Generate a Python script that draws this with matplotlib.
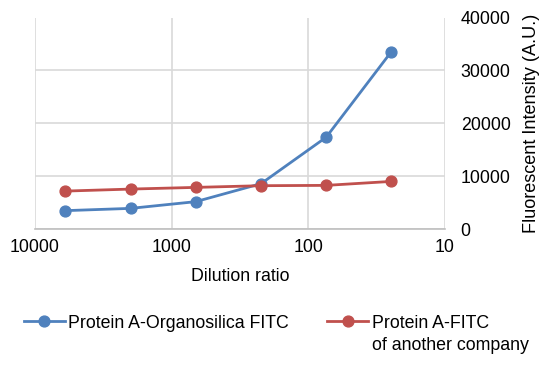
import matplotlib
matplotlib.use("Agg")
import matplotlib.pyplot as plt
from matplotlib.ticker import FixedLocator, NullLocator

plt.rcParams['font.family'] = ['Liberation Sans', 'DejaVu Sans']

dilution = [6000, 2000, 667, 222, 74, 24.7]
organosilica = [3470, 3900, 5170, 8570, 17360, 33530]
other_company = [7170, 7550, 7870, 8190, 8250, 9000]
x_ticks = [10000, 1000, 100, 10]
x_tick_labels = ["10000", "1000", "100", "10"]
y_ticks = [0, 10000, 20000, 30000, 40000]
label_blue = "Protein A-Organosilica FITC"
label_red = ["Protein A-FITC", "of another company"]

blue = "#4F81BD"
red = "#C0504D"
FS = 12.8
W, H = 550, 367

fig = plt.figure(figsize=(5.5, 3.67), dpi=100)
ax = fig.add_axes([35 / W, 1 - 229 / H, (445 - 35) / W, (229 - 17.5) / H])

ax.set_xscale("log")
ax.set_xlim(10000, 10)
ax.set_ylim(0, 40000)

l1, = ax.plot(dilution, organosilica, color=blue, lw=2.0, marker="o", ms=7.8,
              label=label_blue, zorder=3)
l2, = ax.plot(dilution, other_company, color=red, lw=2.0, marker="o", ms=7.8,
              label=label_red[0], zorder=4)

ax.xaxis.set_major_locator(FixedLocator(x_ticks))
ax.set_xticklabels(x_tick_labels)
ax.xaxis.set_minor_locator(NullLocator())
ax.yaxis.set_major_locator(FixedLocator(y_ticks))
ax.yaxis.tick_right()
ax.yaxis.set_label_position("right")

ax.grid(True, color="#d9d9d9", lw=1.2)
ax.set_axisbelow(True)
for s in ["top", "left", "right"]:
    ax.spines[s].set_visible(False)
ax.spines["bottom"].set_color("#bfbfbf")
ax.spines["bottom"].set_linewidth(1.2)

ax.tick_params(axis="both", length=0, labelsize=FS, colors="#000000")
ax.tick_params(axis="x", pad=7.5)
ax.tick_params(axis="y", pad=11.3)

ax.set_xlabel("Dilution ratio", fontsize=FS, labelpad=8)
ax.set_ylabel("Fluorescent Intensity (A.U.)", fontsize=13.1)
ax.yaxis.set_label_coords((523 - 35) / (445 - 35), 0.5)

leg = fig.legend(handles=[l1, l2], loc="center left",
                 bbox_to_anchor=(24 / W, 1 - 323 / H),
                 ncol=2, frameon=False, fontsize=FS, handlelength=2.3,
                 handletextpad=0.2, columnspacing=2.15, borderaxespad=0,
                 borderpad=0)

fig.canvas.draw()
t = leg.get_texts()[1]
bb = t.get_window_extent()
inv = fig.transFigure.inverted()
x0, ytop = inv.transform((bb.x0, bb.y1 - 22))
fig.text(x0, ytop, label_red[1], fontsize=FS, ha="left", va="top")

fig.savefig("out.png", dpi=100)
